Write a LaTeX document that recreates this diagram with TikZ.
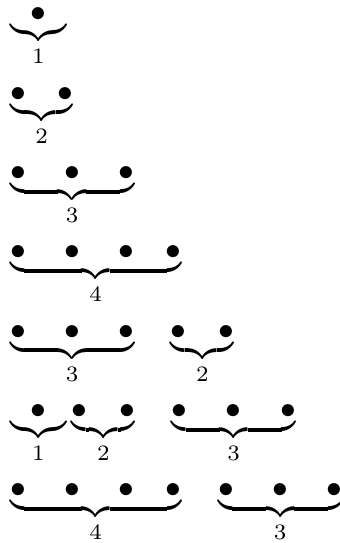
\documentclass[tikz,border=0pt]{standalone}
\usepackage{amsmath}
\tikzset{row/.style={anchor=base west, inner sep=0pt, outer sep=0pt}}
\newcommand{\bb}{\bullet}
\begin{document}
\begin{tikzpicture}[x=1pt,y=1pt]
\useasboundingbox (0,0) rectangle (108,-172.5);
\node[row] (r1) at (3.2,-6.9) {$\underbrace{\bb}_1$};
\node[row] (r2) at (3.2,-32.1) {$\underbrace{\bb\quad\bb}_2$};
\node[row] (r3) at (3.2,-57.3) {$\underbrace{\bb\quad\bb\quad\bb}_3$};
\node[row] (r4) at (3.2,-82.5) {$\underbrace{\bb\quad\bb\quad\bb\quad\bb}_4$};
\node[row] (r5) at (3.2,-107.7) {$\underbrace{\bb\quad\bb\quad\bb}_3\quad\underbrace{\bb\quad\bb}_2$};
\node[row] (r6) at (3.2,-132.9) {$\underbrace{\bb}_1\underbrace{\bb\quad\bb}_2\quad\underbrace{\bb\quad\bb\quad\bb}_3$};
\node[row] (r7) at (3.2,-158.1) {$\underbrace{\bb\quad\bb\quad\bb\quad\bb}_4\quad\underbrace{\bb\quad\bb\quad\bb}_3$};
\end{tikzpicture}
\end{document}
